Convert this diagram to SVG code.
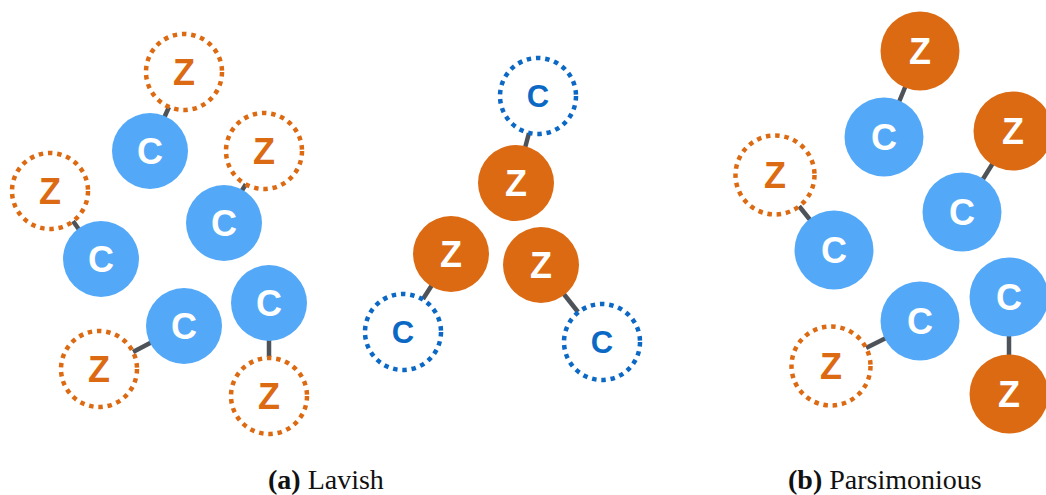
<svg xmlns="http://www.w3.org/2000/svg" width="1046" height="495" viewBox="0 0 1046 495">
  <style>
    .bg { fill: #ffffff; }
    .c-solid { fill: #53a9f8; }
    .z-solid { fill: #dc6a12; }
    .z-ghost { fill: #ffffff; stroke: #dc6a12; stroke-width: 4.5; stroke-dasharray: 4.5 4.8; }
    .c-ghost { fill: #ffffff; stroke: #0b68c4; stroke-width: 4.5; stroke-dasharray: 4.5 4.8; }
    .lbl { font-family: "Liberation Sans", Arial, sans-serif; font-weight: bold; font-size: 36px; text-anchor: middle; }
    .lbl-w { fill: #ffffff; }
    .lbl-o { fill: #dc6a12; }
    .lbl-b { fill: #0b68c4; font-size: 31px; }
    .bond { stroke: #4e5359; stroke-width: 4.5; stroke-linecap: butt; }
    .cap { font-family: "Liberation Serif", "Times New Roman", serif; font-size: 28px; fill: #111111; }
  </style>
  <rect class="bg" x="0" y="0" width="1046" height="495"/>

  <!-- bonds -->
  <g id="connectors">
    <line class="bond" x1="164" y1="118" x2="169" y2="107"/>
    <line class="bond" x1="241" y1="192" x2="246" y2="184"/>
    <line class="bond" x1="73" y1="221" x2="80" y2="231"/>
    <line class="bond" x1="133" y1="352" x2="152" y2="342"/>
    <line class="bond" x1="269" y1="339" x2="269" y2="357"/>
    <line class="bond" x1="529" y1="133" x2="525" y2="148"/>
    <line class="bond" x1="432" y1="285" x2="423" y2="299"/>
    <line class="bond" x1="563" y1="293" x2="578" y2="312"/>
    <line class="bond" x1="906" y1="85" x2="899" y2="102"/>
    <line class="bond" x1="993" y1="163" x2="983" y2="179"/>
    <line class="bond" x1="799" y1="206" x2="811" y2="221"/>
    <line class="bond" x1="866" y1="348" x2="886" y2="338"/>
    <line class="bond" x1="1009" y1="334" x2="1009" y2="357"/>
  </g>

  <!-- (a) Lavish -->
  <g id="a-z1"><circle class="z-ghost" cx="184" cy="72" r="38"/><text class="lbl lbl-o" x="184" y="85">Z</text></g>
  <g id="a-c1"><circle class="c-solid" cx="150" cy="151" r="38"/><text class="lbl lbl-w" x="150" y="164">C</text></g>
  <g id="a-z2"><circle class="z-ghost" cx="264" cy="151" r="38"/><text class="lbl lbl-o" x="264" y="164">Z</text></g>
  <g id="a-c2"><circle class="c-solid" cx="224" cy="223" r="38"/><text class="lbl lbl-w" x="224" y="236">C</text></g>
  <g id="a-z3"><circle class="z-ghost" cx="50" cy="191" r="38"/><text class="lbl lbl-o" x="50" y="204">Z</text></g>
  <g id="a-c3"><circle class="c-solid" cx="101" cy="259" r="38"/><text class="lbl lbl-w" x="101" y="272">C</text></g>
  <g id="a-c4"><circle class="c-solid" cx="184" cy="326" r="38"/><text class="lbl lbl-w" x="184" y="339">C</text></g>
  <g id="a-z4"><circle class="z-ghost" cx="99" cy="369" r="38"/><text class="lbl lbl-o" x="99" y="382">Z</text></g>
  <g id="a-c5"><circle class="c-solid" cx="269" cy="303" r="38"/><text class="lbl lbl-w" x="269" y="316">C</text></g>
  <g id="a-z5"><circle class="z-ghost" cx="269" cy="396" r="38"/><text class="lbl lbl-o" x="269" y="409">Z</text></g>

  <!-- middle trio -->
  <g id="m-c1"><circle class="c-ghost" cx="538" cy="96" r="38"/><text class="lbl lbl-b" x="538" y="107">C</text></g>
  <g id="m-z1"><circle class="z-solid" cx="516" cy="183" r="38"/><text class="lbl lbl-w" x="516" y="196">Z</text></g>
  <g id="m-z2"><circle class="z-solid" cx="451" cy="254" r="38"/><text class="lbl lbl-w" x="451" y="267">Z</text></g>
  <g id="m-z3"><circle class="z-solid" cx="541" cy="265" r="38"/><text class="lbl lbl-w" x="541" y="278">Z</text></g>
  <g id="m-c2"><circle class="c-ghost" cx="403" cy="332" r="38"/><text class="lbl lbl-b" x="403" y="343">C</text></g>
  <g id="m-c3"><circle class="c-ghost" cx="602" cy="342" r="38"/><text class="lbl lbl-b" x="602" y="353">C</text></g>

  <!-- (b) Parsimonious -->
  <g id="b-z1"><circle class="z-solid" cx="920" cy="51" r="39.5"/><text class="lbl lbl-w" x="920" y="64">Z</text></g>
  <g id="b-c1"><circle class="c-solid" cx="884" cy="137" r="39.5"/><text class="lbl lbl-w" x="884" y="150">C</text></g>
  <g id="b-z2"><circle class="z-solid" cx="1013" cy="131" r="39.5"/><text class="lbl lbl-w" x="1013" y="144">Z</text></g>
  <g id="b-c2"><circle class="c-solid" cx="962" cy="212" r="39.5"/><text class="lbl lbl-w" x="962" y="225">C</text></g>
  <g id="b-z3"><circle class="z-ghost" cx="775" cy="175" r="39.5"/><text class="lbl lbl-o" x="775" y="188">Z</text></g>
  <g id="b-c3"><circle class="c-solid" cx="834" cy="250" r="39.5"/><text class="lbl lbl-w" x="834" y="263">C</text></g>
  <g id="b-c4"><circle class="c-solid" cx="920" cy="321" r="39.5"/><text class="lbl lbl-w" x="920" y="334">C</text></g>
  <g id="b-z4"><circle class="z-ghost" cx="831" cy="366" r="39.5"/><text class="lbl lbl-o" x="831" y="379">Z</text></g>
  <g id="b-c5"><circle class="c-solid" cx="1009" cy="297" r="39.5"/><text class="lbl lbl-w" x="1009" y="310">C</text></g>
  <g id="b-z5"><circle class="z-solid" cx="1009" cy="394" r="39.5"/><text class="lbl lbl-w" x="1009" y="407">Z</text></g>

  <!-- captions -->
  <text class="cap" x="268" y="489"><tspan font-weight="bold">(a)</tspan> Lavish</text>
  <text class="cap" x="788" y="489"><tspan font-weight="bold">(b)</tspan> Parsimonious</text>
</svg>
